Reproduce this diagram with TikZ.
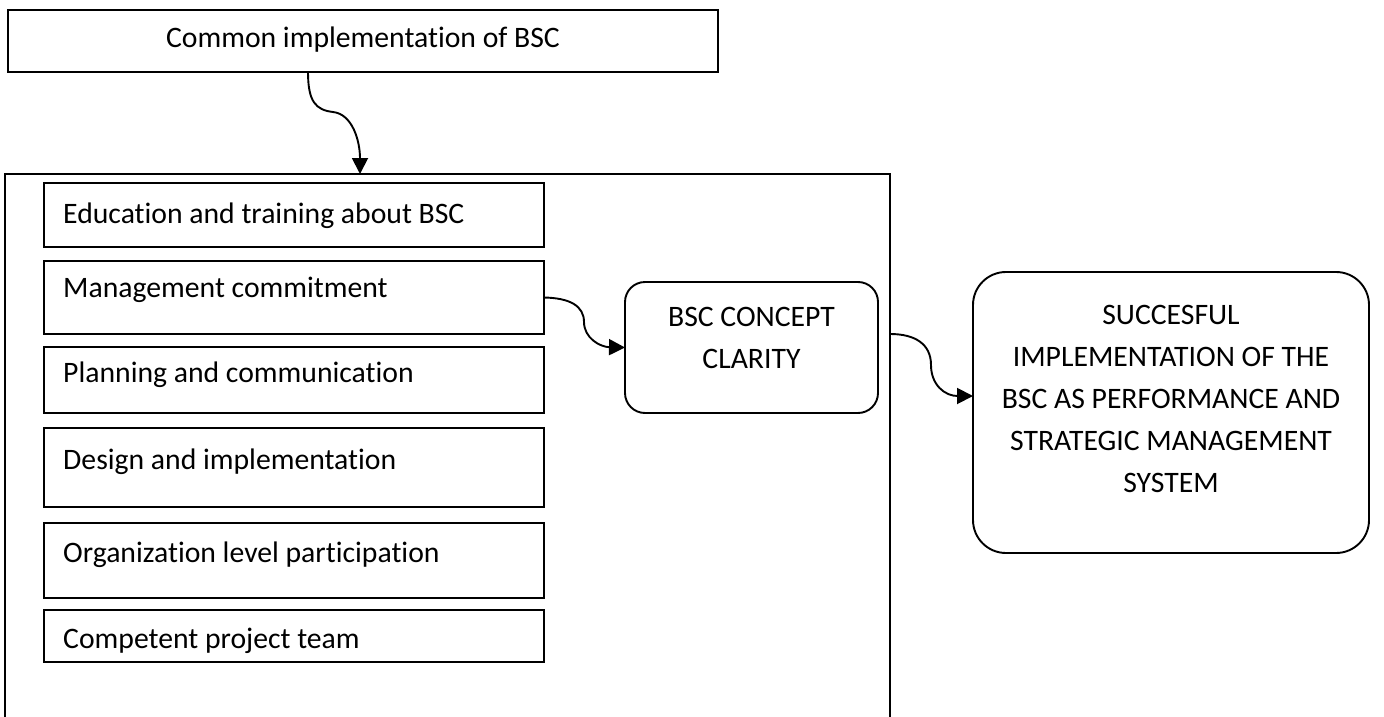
\documentclass[tikz,border=0pt]{standalone}
\usepackage{fontspec}
\setmainfont{Carlito}[Ligatures={NoCommon}]
\usetikzlibrary{arrows.meta,calc}
\tikzset{
  box/.style={draw=black, line width=1.9pt, inner sep=0pt, outer sep=0pt},
  ibox/.style={box, minimum width=500pt},
  rbox/.style={box, rounded corners=#1},
  lbl/.style={anchor=west, inner sep=0pt, font=\fontsize{29.7}{42}\selectfont},
  ctxt/.style={align=center, inner sep=0pt, font=\fontsize{29.7}{42}\selectfont},
  arr/.style={line width=1.9pt, -{Triangle[length=16pt,width=16pt]}}
}
\begin{document}
\begin{tikzpicture}[x=1pt,y=-1pt]
\useasboundingbox (0,0) rectangle (1384,717);
\clip (0,0) rectangle (1384,717);
% top box
\node[box, minimum width=710pt, minimum height=62pt] (top) at (363,41) {};
\node[ctxt] (toptxt) at (363,40) {Common implementation of BSC};
% outer box
\node[box, minimum width=885pt, minimum height=600pt] (outer) at (447.5,474) {};
% inner boxes
\node[ibox, minimum height=64pt] (b1) at (294,215) {};
\node[ibox, minimum height=73pt] (b2) at (294,297.5) {};
\node[ibox, minimum height=66pt] (b3) at (294,380) {};
\node[ibox, minimum height=79pt] (b4) at (294,467.5) {};
\node[ibox, minimum height=75pt] (b5) at (294,560.5) {};
\node[ibox, minimum height=52pt] (b6) at (294,636) {};
\node[lbl] (t1) at (63,216) {Education and training about BSC};
\node[lbl] (t2) at (63,290) {Management commitment};
\node[lbl] (t3) at (63,375) {Planning and communication};
\node[lbl] (t4) at (63,462) {Design and implementation};
\node[lbl] (t5) at (63,555) {Organization level participation};
\node[lbl] (t6) at (63,641) {Competent project team};
% concept box
\node[rbox=20pt, minimum width=253pt, minimum height=131pt] (concept) at (751.5,347.5) {};
\node[ctxt] (ctxt1) at (751.5,338) {BSC CONCEPT\\CLARITY};
% final box
\node[rbox=33pt, minimum width=396pt, minimum height=281pt] (final) at (1171,412.5) {};
\node[ctxt] (ftxt) at (1171,399) {SUCCESFUL\\IMPLEMENTATION OF THE\\BSC AS PERFORMANCE AND\\STRATEGIC MANAGEMENT\\SYSTEM};
% connectors
\draw[arr] ([xshift=-55pt]top.south) .. controls (308,102) and (316,110) .. (333,112)
  .. controls (352,114) and (360,140) .. ([xshift=-87.5pt]outer.north);
\draw[arr] (b2.east) .. controls (570,298) and (584,306) .. (584,322)
  .. controls (584,338) and (600,347) .. (concept.west);
\draw[arr] ([yshift=-160pt]outer.north east) .. controls (915,334) and (931,344) .. (931,365)
  .. controls (931,385) and (945,396) .. ([yshift=16.5pt]final.west);
\end{tikzpicture}
\end{document}
